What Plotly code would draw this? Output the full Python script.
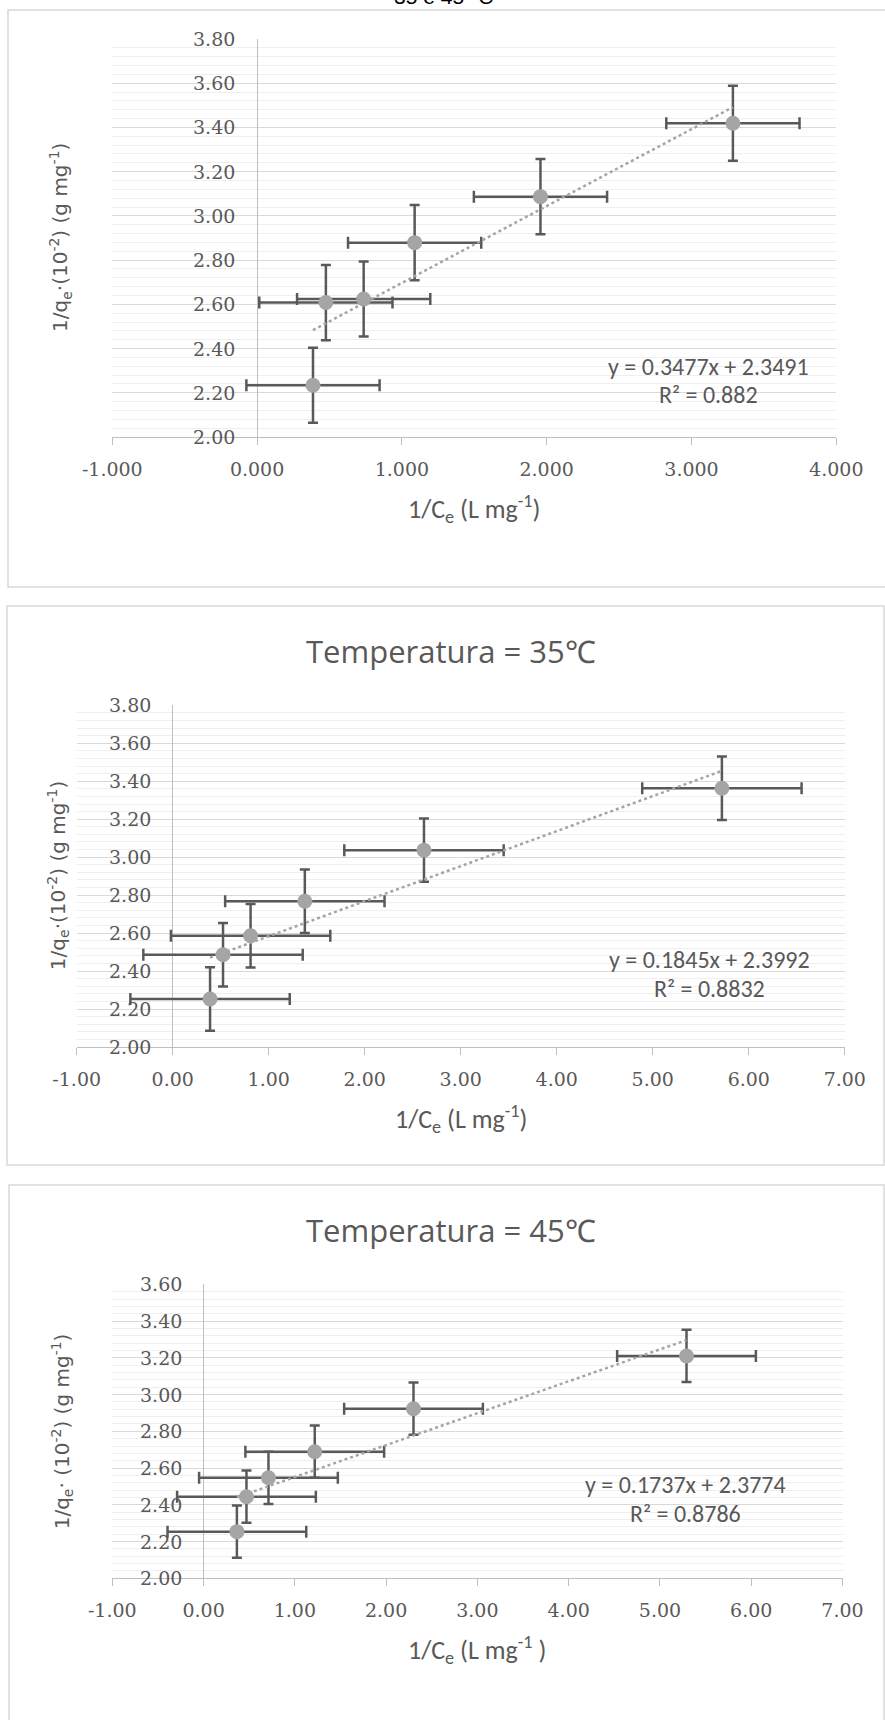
import plotly.graph_objects as go

W, H = 885, 1720

# ---------------- data ----------------
x_p1 = [0.386, 0.475, 0.736, 1.088, 1.957, 3.286]
y_p1 = [2.234, 2.608, 2.624, 2.879, 3.087, 3.419]
xerr_p1, yerr_p1 = 0.46, 0.17
coef_p1 = [0.3477, 2.3491]
eq_p1 = ["y = 0.3477x + 2.3491", "R² = 0.882"]
xticks_p1 = [-1, 0, 1, 2, 3, 4]
yticks_p1 = [2.0, 2.2, 2.4, 2.6, 2.8, 3.0, 3.2, 3.4, 3.6, 3.8]

x_p2 = [0.389, 0.524, 0.811, 1.376, 2.617, 5.72]
y_p2 = [2.253, 2.486, 2.586, 2.768, 3.037, 3.363]
xerr_p2, yerr_p2 = 0.83, 0.167
coef_p2 = [0.1845, 2.3992]
eq_p2 = ["y = 0.1845x + 2.3992", "R² = 0.8832"]
xticks_p2 = [-1, 0, 1, 2, 3, 4, 5, 6, 7]
yticks_p2 = [2.0, 2.2, 2.4, 2.6, 2.8, 3.0, 3.2, 3.4, 3.6, 3.8]

x_p3 = [0.365, 0.47, 0.711, 1.218, 2.30, 5.291]
y_p3 = [2.254, 2.444, 2.547, 2.689, 2.923, 3.21]
xerr_p3, yerr_p3 = 0.76, 0.142
coef_p3 = [0.1737, 2.3774]
eq_p3 = ["y = 0.1737x + 2.3774", "R² = 0.8786"]
xticks_p3 = [-1, 0, 1, 2, 3, 4, 5, 6, 7]
yticks_p3 = [2.0, 2.2, 2.4, 2.6, 2.8, 3.0, 3.2, 3.4, 3.6]

titles = [None, "Temperatura = 35℃", "Temperatura = 45℃"]
ytitles = ["1/q<sub>e</sub>·(10<sup>-2</sup>) (g mg<sup>-1</sup>)",
           "1/q<sub>e</sub>·(10<sup>-2</sup>) (g mg<sup>-1</sup>)",
           "1/q<sub>e</sub>· (10<sup>-2</sup>) (g mg<sup>-1</sup>)"]
xtitles = ["1/C<sub>e</sub> (L mg<sup>-1</sup>)",
           "1/C<sub>e</sub> (L mg<sup>-1</sup>)",
           "1/C<sub>e</sub> (L mg<sup>-1</sup> )"]

# ---------------- layout geometry (pixels) ----------------
panels = [
    dict(x=x_p1, y=y_p1, xe=xerr_p1, ye=yerr_p1, coef=coef_p1, eq=eq_p1,
         xt=xticks_p1, yt=yticks_p1, xdec=3,
         xpx=(112.3, 836.3), ypx=(39, 437), eqpos=(708, 366, 394),
         ytx=61, title_y=None, box=(8, 10, 900, 587)),
    dict(x=x_p2, y=y_p2, xe=xerr_p2, ye=yerr_p2, coef=coef_p2, eq=eq_p2,
         xt=xticks_p2, yt=yticks_p2, xdec=2,
         xpx=(76.7, 844.8), ypx=(705.3, 1047), eqpos=(709, 959, 988),
         ytx=58, title_y=651, box=(7, 606, 884, 1165)),
    dict(x=x_p3, y=y_p3, xe=xerr_p3, ye=yerr_p3, coef=coef_p3, eq=eq_p3,
         xt=xticks_p3, yt=yticks_p3, xdec=2,
         xpx=(112.3, 842.5), ypx=(1284.3, 1578.3), eqpos=(685, 1484, 1513),
         ytx=62, title_y=1230, box=(9, 1185, 884, 1730)),
]

GRAY_TXT = "#595959"
TICK_FONT = dict(family="DejaVu Serif", size=19, color=GRAY_TXT)
EQ_FONT = dict(family="Carlito, Lato", size=24, color=GRAY_TXT)

fig = go.Figure()
layout = dict(width=W, height=H, margin=dict(l=0, r=0, t=0, b=0, pad=0),
              autosize=False,
              paper_bgcolor="white", plot_bgcolor="white", showlegend=False)
annotations = []
shapes = []

for i, p in enumerate(panels, start=1):
    xa = "x" if i == 1 else f"x{i}"
    ya = "y" if i == 1 else f"y{i}"
    xk = "xaxis" if i == 1 else f"xaxis{i}"
    yk = "yaxis" if i == 1 else f"yaxis{i}"

    fig.add_trace(go.Scatter(
        x=p["x"], y=p["y"], mode="markers", xaxis=xa, yaxis=ya,
        marker=dict(size=15, color="#a5a5a5"),
        error_x=dict(type="constant", value=p["xe"], color="#595959", thickness=2.5, width=6),
        error_y=dict(type="constant", value=p["ye"], color="#595959", thickness=2.5, width=5),
    ))
    xmin, xmax = min(p["x"]), max(p["x"])
    m, b = p["coef"]
    fig.add_trace(go.Scatter(
        x=[xmin, xmax], y=[m * xmin + b, m * xmax + b], mode="lines",
        xaxis=xa, yaxis=ya, line=dict(color="#a5a5a5", width=2.5, dash="dot"),
    ))

    layout[xk] = dict(
        domain=[p["xpx"][0] / W, p["xpx"][1] / W], anchor=ya, automargin=False,
        range=[p["xt"][0], p["xt"][-1]], tickvals=p["xt"],
        ticktext=[f"{v:.{p['xdec']}f}" for v in p["xt"]],
        showgrid=False, zeroline=True, zerolinecolor="#bfbfbf", zerolinewidth=1,
        showline=True, linecolor="#bfbfbf", linewidth=1,
        ticks="outside", ticklen=7, tickcolor="#bfbfbf",
        tickfont=TICK_FONT, ticklabelstandoff=8,
    )
    layout[yk] = dict(
        domain=[1 - p["ypx"][1] / H, 1 - p["ypx"][0] / H], anchor=xa, automargin=False,
        range=[p["yt"][0], p["yt"][-1]], tickvals=p["yt"],
        showticklabels=False, showline=False, zeroline=False, ticks="",
        showgrid=True, gridcolor="#d9d9d9", gridwidth=1.3,
        minor=dict(dtick=0.04, tick0=2.0, showgrid=True, gridcolor="#efefef", gridwidth=1),
    )

    for v in p["yt"]:
        annotations.append(dict(x=0, y=v, xref=xa, yref=ya, text=f"{v:.2f}",
                                showarrow=False, xanchor="right", yanchor="middle",
                                xshift=-20, font=TICK_FONT))

    annotations.append(dict(x=0.5, y=0, xref=f"{xa} domain", yref=f"{ya} domain",
                            text=xtitles[i - 1], showarrow=False, yshift=-72,
                            xanchor="center", yanchor="middle",
                            font=dict(family="Carlito, Lato", size=26, color=GRAY_TXT)))
    annotations.append(dict(x=p["ytx"] / W, y=0.5, xref="paper", yref=f"{ya} domain",
                            text=ytitles[i - 1], showarrow=False, textangle=-90,
                            xanchor="center", yanchor="middle",
                            font=dict(family="DejaVu Sans", size=20, color=GRAY_TXT)))
    ex, ey1, ey2 = p["eqpos"]
    annotations.append(dict(x=ex / W, y=1 - ey1 / H, xref="paper", yref="paper",
                            text=p["eq"][0], showarrow=False, xanchor="center",
                            yanchor="middle", font=EQ_FONT))
    annotations.append(dict(x=ex / W, y=1 - ey2 / H, xref="paper", yref="paper",
                            text=p["eq"][1], showarrow=False, xanchor="center",
                            yanchor="middle", font=EQ_FONT))
    if titles[i - 1]:
        annotations.append(dict(x=451 / W, y=1 - p["title_y"] / H, xref="paper", yref="paper",
                                text=titles[i - 1], showarrow=False, xanchor="center",
                                yanchor="middle",
                                font=dict(family="Open Sans", size=31, color=GRAY_TXT)))

    bx, btop, bright, bbot = p["box"]
    shapes.append(dict(type="rect", xref="paper", yref="paper",
                       x0=bx / W, x1=bright / W, y0=1 - bbot / H, y1=1 - btop / H,
                       line=dict(color="#d9d9d9", width=1.5), fillcolor="rgba(0,0,0,0)",
                       layer="below"))

# clipped caption fragment at the very top
annotations.append(dict(x=443 / W, y=1 - 10 / H, xref="paper", yref="paper",
                        text="35 e 45 °C", showarrow=False, xanchor="center",
                        yanchor="bottom",
                        font=dict(family="Liberation Sans", size=21, color="black")))

layout["annotations"] = annotations
layout["shapes"] = shapes
fig.update_layout(**layout)
fig.write_html("out.html", config={"displayModeBar": False})
